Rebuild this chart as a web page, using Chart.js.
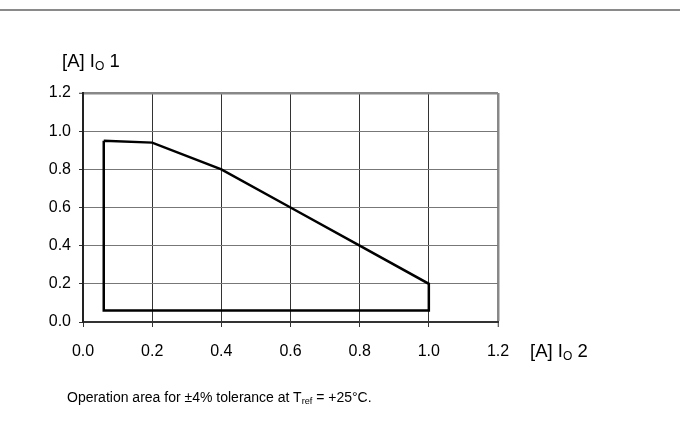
<!DOCTYPE html>
<html>
<head>
<meta charset="utf-8">
<script src="https://cdn.jsdelivr.net/npm/chart.js@4"></script>
<style>
  html, body { margin: 0; padding: 0; background: #fff; }
  #wrap { position: relative; width: 680px; height: 435px; overflow: hidden; font-family: "Liberation Sans", Arial, sans-serif; color: #000; }
  #rule { position: absolute; left: 0; top: 9px; width: 680px; height: 2px; background: #8a8a8a; }
  canvas { position: absolute; left: 0; top: 0; }
  .lbl { position: absolute; white-space: nowrap; line-height: 1; }
  .lbl sub { font-size: 0.65em; vertical-align: -0.25em; line-height: 0; }
  #ytitle { left: 62px; top: 52px; font-size: 18.5px; }
  #xtitle { left: 530px; top: 342px; font-size: 18.5px; }
  #caption { left: 67px; top: 390px; font-size: 14px; }
</style>
</head>
<body>
<div id="wrap">
  <canvas id="c" width="680" height="435"></canvas>
  <div id="rule"></div>
  <div class="lbl" id="ytitle">[A] I<sub>O</sub> 1</div>
  <div class="lbl" id="xtitle">[A] I<sub>O</sub> 2</div>
  <div class="lbl" id="caption">Operation area for ±4% tolerance at T<sub>ref</sub> = +25°C.</div>
</div>
<script>
// Operating area boundary (closed polygon)
const io2Values = [0.06, 0.2, 0.4, 0.6, 0.8, 1.0, 1.0, 0.06, 0.06];
const io1Values = [0.95, 0.94, 0.8, 0.6, 0.4, 0.2, 0.06, 0.06, 0.95];
const xTickValues = [0.0, 0.2, 0.4, 0.6, 0.8, 1.0, 1.2];
const yTickValues = [0.0, 0.2, 0.4, 0.6, 0.8, 1.0, 1.2];

const points = io2Values.map((x, i) => ({ x: x, y: io1Values[i] }));

new Chart(document.getElementById('c'), {
  type: 'scatter',
  data: {
    datasets: [{
      data: points,
      showLine: true,
      borderColor: '#000',
      borderWidth: 2.5,
      pointRadius: 0,
      fill: false,
      tension: 0,
      borderJoinStyle: 'miter'
    }]
  },
  options: {
    responsive: false,
    animation: false,
    devicePixelRatio: 1,
    layout: { padding: { left: 0, top: 93, right: 182, bottom: 73 } },
    plugins: { legend: { display: false }, tooltip: { enabled: false } },
    scales: {
      x: {
        type: 'linear',
        min: 0, max: 1.2,
        afterBuildTicks: (s) => { s.ticks = xTickValues.map(v => ({ value: v })); },
        afterFit: (s) => { s.height = 40; },
        ticks: {
          font: { family: 'Liberation Sans', size: 16 },
          color: '#000',
          padding: 15,
          maxRotation: 0,
          callback: (v) => Number(v).toFixed(1)
        },
        grid: {
          color: (ctx) => ctx.tick && ctx.tick.value === 1.2 ? '#888' : '#333',
          lineWidth: (ctx) => ctx.tick && ctx.tick.value === 1.2 ? 2.5 : 1,
          tickColor: '#333',
          tickLength: 5,
          tickWidth: 1
        },
        border: { color: '#333', width: 2 }
      },
      y: {
        type: 'linear',
        min: 0, max: 1.2,
        afterBuildTicks: (s) => { s.ticks = yTickValues.map(v => ({ value: v })); },
        afterFit: (s) => { s.width = 83; },
        ticks: {
          font: { family: 'Liberation Sans', size: 16 },
          color: '#000',
          padding: 8,
          callback: (v) => Number(v).toFixed(1)
        },
        grid: {
          color: (ctx) => ctx.tick && ctx.tick.value === 1.2 ? '#888' : '#777',
          lineWidth: (ctx) => ctx.tick && ctx.tick.value === 1.2 ? 2.5 : 1,
          tickColor: '#333',
          tickLength: 4,
          tickWidth: 1
        },
        border: { color: '#222', width: 2 }
      }
    }
  }
});
</script>
</body>
</html>
